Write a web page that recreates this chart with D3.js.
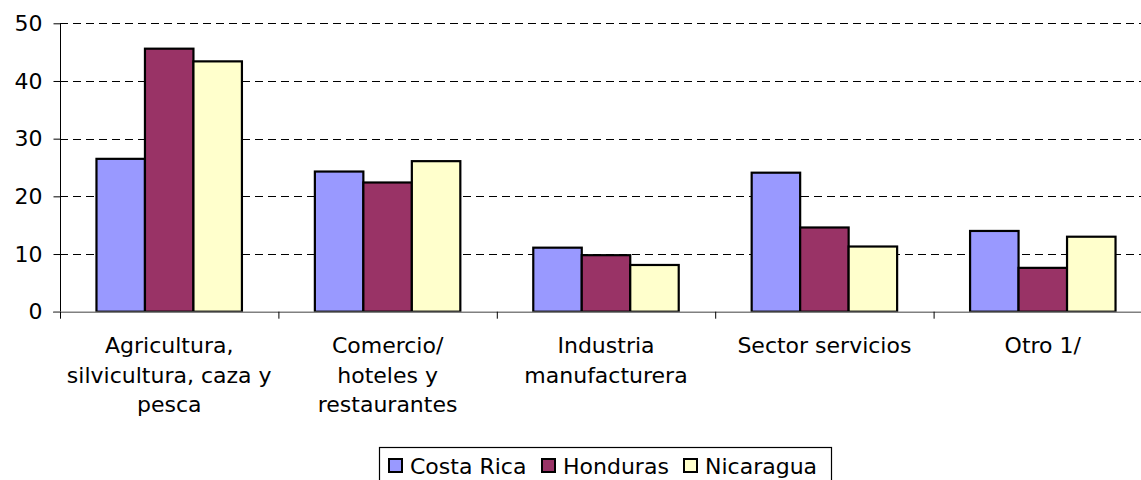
<!DOCTYPE html>
<html>
<head>
<meta charset="utf-8">
<script src="https://cdn.jsdelivr.net/npm/d3@7"></script>
<style>
  html, body { margin: 0; padding: 0; background: #fff; overflow: hidden; }
  text { font-family: "DejaVu Sans", Verdana, sans-serif; fill: #000; }
</style>
</head>
<body>
<script>
// data
let categories = ["Agricultura", "Comercio", "Industria", "Servicios", "Otro"];
let categoryLines = [
  ["Agricultura,", "silvicultura, caza y", "pesca"],
  ["Comercio/", "hoteles y", "restaurantes"],
  ["Industria", "manufacturera"],
  ["Sector servicios"],
  ["Otro 1/"]
];
let seriesNames = ["Costa Rica", "Honduras", "Nicaragua"];
let costaRica = [26.5, 24.3, 11.1, 24.1, 14.0];
let honduras  = [45.6, 22.4, 9.8, 14.6, 7.6];
let nicaragua = [43.4, 26.1, 8.1, 11.3, 13.0];
let yTicks = [0, 10, 20, 30, 40, 50];
let colors = ["#9999FF", "#993366", "#FFFFCC"];

let seriesValues = [costaRica, honduras, nicaragua];

let width = 1141,
    height = 480,
    plotLeft = 60,
    plotRight = 1152,   // the plot area runs past the window edge
    plotTop = 23.3,
    plotBottom = 311.7,
    fontSize = 22;

let svg = d3.select("body").append("svg")
  .attr("width", width)
  .attr("height", height);

let x0 = d3.scaleBand()
  .domain(categories)
  .range([plotLeft, plotRight]);

let groupPad = x0.bandwidth() * 0.167;
let x1 = d3.scaleBand()
  .domain(seriesNames)
  .range([groupPad, x0.bandwidth() - groupPad]);

let y = d3.scaleLinear()
  .domain([0, 50])
  .range([plotBottom, plotTop]);

// gridlines
svg.append("g")
  .selectAll("line")
  .data(yTicks.filter(d => d > 0))
  .enter()
  .append("line")
  .attr("x1", plotLeft)
  .attr("x2", width)
  .attr("y1", d => Math.round(y(d)) + 0.5)
  .attr("y2", d => Math.round(y(d)) + 0.5)
  .attr("stroke", "#000")
  .attr("stroke-width", 1)
  .attr("stroke-dasharray", "8,5");

// y axis
let yAxis = d3.axisLeft(y)
  .tickValues(yTicks)
  .tickSize(7)
  .tickPadding(11)
  .tickFormat(d3.format("d"));

let gy = svg.append("g")
  .attr("transform", `translate(${plotLeft + 0.5},0)`)
  .call(yAxis);
gy.select(".domain").attr("stroke", "#000").attr("d", `M0,${y(50)}V${plotBottom}`);
gy.selectAll(".tick line").attr("stroke", "#000");
gy.selectAll(".tick text")
  .style("font-family", '"DejaVu Sans", Verdana, sans-serif')
  .style("font-size", fontSize + "px")
  .attr("fill", "#000");

// bars
let groups = svg.append("g")
  .selectAll("g")
  .data(categories)
  .enter()
  .append("g")
  .attr("transform", d => `translate(${x0(d)},0)`);

groups.selectAll("rect")
  .data((d, i) => seriesNames.map((s, j) => ({ s: s, j: j, v: seriesValues[j][i] })))
  .enter()
  .append("rect")
  .attr("x", d => x1(d.s))
  .attr("y", d => y(d.v))
  .attr("width", x1.bandwidth())
  .attr("height", d => plotBottom - y(d.v))
  .attr("fill", d => colors[d.j])
  .attr("stroke", "#000")
  .attr("stroke-width", 2.2);

// x axis
let xAxisLine = svg.append("g");
xAxisLine.append("line")
  .attr("x1", plotLeft - 7)
  .attr("x2", width)
  .attr("y1", plotBottom + 0.5)
  .attr("y2", plotBottom + 0.5)
  .attr("stroke", "#808080")
  .attr("stroke-width", 1.5);

xAxisLine.selectAll("line.tick")
  .data(categories)
  .enter()
  .append("line")
  .attr("class", "tick")
  .attr("x1", d => x0(d) + 0.5)
  .attr("x2", d => x0(d) + 0.5)
  .attr("y1", plotBottom)
  .attr("y2", plotBottom + 7)
  .attr("stroke", "#000");

// category labels
let labels = svg.append("g")
  .selectAll("text")
  .data(categories)
  .enter()
  .append("text")
  .attr("text-anchor", "middle")
  .style("font-size", fontSize + "px")
  .attr("x", d => x0(d) + x0.bandwidth() / 2)
  .attr("y", 353);

labels.each(function (d, i) {
  d3.select(this).selectAll("tspan")
    .data(categoryLines[i])
    .enter()
    .append("tspan")
    .attr("x", x0(d) + x0.bandwidth() / 2)
    .attr("dy", (t, k) => k === 0 ? 0 : 29.5)
    .text(t => t);
});

// legend
let legendLeft = 379.5,
    legendRight = 831.5,
    legendItemX = [389, 542, 684];

let legend = svg.append("g");
legend.append("rect")
  .attr("x", legendLeft)
  .attr("y", 447.5)
  .attr("width", legendRight - legendLeft)
  .attr("height", 60)
  .attr("fill", "#fff")
  .attr("stroke", "#000")
  .attr("stroke-width", 1.2);

let items = legend.selectAll("g.item")
  .data(seriesNames)
  .enter()
  .append("g")
  .attr("class", "item")
  .attr("transform", (d, j) => `translate(${legendItemX[j]},0)`);

items.append("rect")
  .attr("x", 0)
  .attr("y", 459)
  .attr("width", 13)
  .attr("height", 13)
  .attr("fill", (d, j) => colors[j])
  .attr("stroke", "#000")
  .attr("stroke-width", 2);

items.append("text")
  .attr("x", 21)
  .attr("y", 474)
  .style("font-size", fontSize + "px")
  .text(d => d);
</script>
</body>
</html>
